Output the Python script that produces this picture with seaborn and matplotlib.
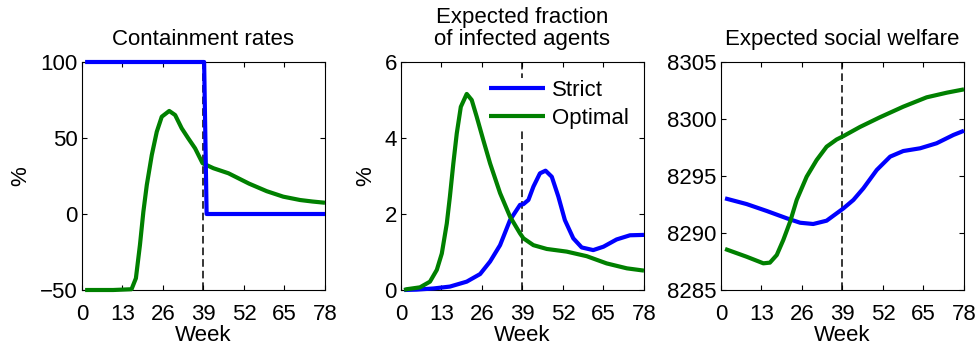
import numpy as np
import pandas as pd
import matplotlib
matplotlib.use("Agg")
import matplotlib.pyplot as plt
import seaborn as sns

# ---------------- data ----------------
week_ticks = [0, 13, 26, 39, 52, 65, 78]
policy_switch_week = 39

# Panel 1: containment rates (%)
cont_strict_w = [1, 39.2, 40.0, 78]
cont_strict_v = [100, 100, 0, 0]
cont_opt_w = [1, 10, 15.9, 17.3, 18.6, 19.7, 20.8, 22.4, 24.0, 25.6, 28.0, 29.9, 32.0,
              34.1, 36.3, 38.7, 42.2, 47.0, 53.6, 59.3, 64.6, 70, 74, 78]
cont_opt_v = [-50, -50, -49.5, -42.3, -20.4, 1.5, 19.1, 38.8, 54.1, 64.0, 67.8, 65.1, 56.4,
              49.8, 43.2, 33.4, 30.1, 26.8, 20.0, 15.0, 11.4, 9.2, 8.2, 7.4]

# Panel 2: expected fraction of infected agents (%)
inf_strict_w = [1, 5, 10.4, 15.7, 21.1, 25.4, 28.6, 31.8, 35.0, 38.2, 39.3, 40.9, 42.5,
                44.6, 46.4, 48.4, 50.5, 52.6, 55.3, 58.0, 61.7, 65.0, 69.2, 73.5, 78]
inf_strict_v = [0, 0.01, 0.04, 0.09, 0.22, 0.42, 0.75, 1.18, 1.84, 2.24, 2.26, 2.37, 2.72,
                3.07, 3.14, 2.98, 2.46, 1.84, 1.36, 1.12, 1.05, 1.14, 1.33, 1.44, 1.45]
inf_opt_w = [1, 1.8, 6.1, 9.3, 11.5, 13.1, 14.7, 15.7, 16.8, 17.9, 19.2, 21.1, 22.7, 24.3,
             26.4, 28.6, 31.8, 35.0, 38.2, 39.3, 42.5, 46.8, 53.2, 59.6, 66.0, 72.5, 78]
inf_opt_v = [0, 0.02, 0.07, 0.22, 0.53, 0.96, 1.75, 2.46, 3.33, 4.12, 4.82, 5.16, 5.0,
             4.56, 3.95, 3.33, 2.55, 1.93, 1.49, 1.36, 1.18, 1.08, 1.01, 0.89, 0.70,
             0.57, 0.51]

# Panel 3: expected social welfare
wel_strict_w = [1.3, 8.2, 14.7, 21.1, 25.4, 29.6, 33.9, 37.1, 39.3, 42.5, 45.7, 50.0,
                54.3, 58.5, 63.9, 69.2, 74.6, 78]
wel_strict_v = [8293.04, 8292.54, 8291.93, 8291.29, 8290.9, 8290.79, 8291.08, 8291.72,
                8292.16, 8292.9, 8293.92, 8295.53, 8296.7, 8297.19, 8297.43, 8297.87,
                8298.6, 8298.97]
wel_opt_w = [1.3, 8.2, 13.6, 15.7, 17.9, 20.0, 22.2, 24.3, 27.5, 30.7, 33.9, 37.1, 39.3,
             44.6, 51.0, 58.5, 66.0, 72.5, 78]
wel_opt_v = [8288.6, 8287.92, 8287.34, 8287.4, 8288.07, 8289.39, 8291.0, 8292.9, 8294.94,
             8296.4, 8297.57, 8298.2, 8298.5, 8299.3, 8300.15, 8301.08, 8301.9, 8302.31,
             8302.6]

titles = ["Containment rates", "Expected fraction\nof infected agents",
          "Expected social welfare"]
ylabels = ["%", "%", ""]
ylims = [(-50, 100), (0, 6), (8285, 8305)]
yticks = [[-50, 0, 50, 100], [0, 2, 4, 6], [8285, 8290, 8295, 8300, 8305]]
series_names = ["Strict", "Optimal"]

# ---------------- style ----------------
sns.set_theme(style="white")
plt.rcParams["font.family"] = ["Liberation Sans", "DejaVu Sans"]
plt.rcParams["axes.unicode_minus"] = True
plt.rcParams["text.color"] = "black"
plt.rcParams["axes.labelcolor"] = "black"

blue = (0, 0, 1)
green = (0, 0.5, 0)
FS = 16

fig = plt.figure(figsize=(9.79, 3.51), dpi=100)
lefts = [82, 401, 721]
axes = [fig.add_axes([l / 979, 61 / 351, 243 / 979, 228 / 351]) for l in lefts]

panels = [
    ((cont_strict_w, cont_strict_v), (cont_opt_w, cont_opt_v)),
    ((inf_strict_w, inf_strict_v), (inf_opt_w, inf_opt_v)),
    ((wel_strict_w, wel_strict_v), (wel_opt_w, wel_opt_v)),
]

line_kw = dict(lw=3, legend=False, clip_on=False, solid_joinstyle="round",
               solid_capstyle="butt")

for i, ax in enumerate(axes):
    ax.axvline(policy_switch_week, color="black", lw=1.1, ls=(0, (5, 2.6)), zorder=1)
    (sw, sv), (ow, ov) = panels[i]
    df_s = pd.DataFrame({"Week": sw, "v": sv})
    df_o = pd.DataFrame({"Week": ow, "v": ov})
    if i == 0:
        sns.lineplot(data=df_o, x="Week", y="v", color=green, ax=ax,
                     label=series_names[1], zorder=3, **line_kw)
        sns.lineplot(data=df_s, x="Week", y="v", color=blue, ax=ax,
                     label=series_names[0], zorder=4, sort=False, **line_kw)
    else:
        sns.lineplot(data=df_s, x="Week", y="v", color=blue, ax=ax,
                     label=series_names[0], zorder=3, **line_kw)
        sns.lineplot(data=df_o, x="Week", y="v", color=green, ax=ax,
                     label=series_names[1], zorder=4, **line_kw)
    ax.set_xlim(0, 78)
    ax.set_ylim(*ylims[i])
    ax.set_xticks(week_ticks)
    ax.set_yticks(yticks[i])
    ax.ticklabel_format(axis="y", useOffset=False, style="plain")
    ax.tick_params(direction="in", length=3.5, width=0.8, top=True, right=True,
                   bottom=True, left=True, labelsize=FS, colors="black",
                   labelcolor="black")
    ax.tick_params(axis="x", pad=10)
    ax.tick_params(axis="y", pad=3)
    for sp in ax.spines.values():
        sp.set_color("black")
        sp.set_linewidth(0.8)
        sp.set_visible(True)
    ax.set_xlabel("Week", fontsize=FS, labelpad=0, color="black")
    ax.set_ylabel(ylabels[i], fontsize=FS, labelpad=6, color="black")
    ax.set_title(titles[i], fontsize=FS, pad=12, linespacing=1.1, color="black")
    ax.grid(False)

handles = axes[1].get_lines()[1:3]
leg = axes[1].legend(handles=handles, labels=series_names, loc="upper right",
                     bbox_to_anchor=(0.945, 0.93), borderaxespad=0, fontsize=FS,
                     handlelength=2.5, handletextpad=0.3, labelspacing=0.3,
                     borderpad=0.1, frameon=True, fancybox=False)
leg.get_frame().set_facecolor("white")
leg.get_frame().set_edgecolor("none")
leg.get_frame().set_alpha(1)
leg.set_zorder(5)
for t in leg.get_texts():
    t.set_color("black")

fig.savefig("out.png", dpi=100)
